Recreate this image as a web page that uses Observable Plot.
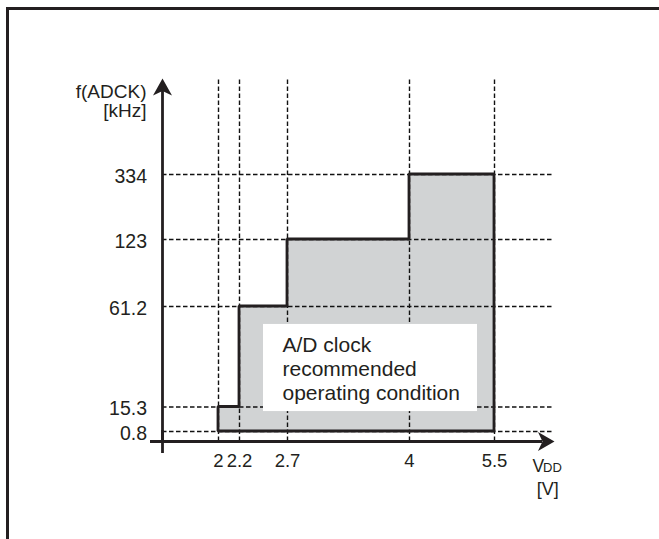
<!DOCTYPE html>
<html>
<head>
<meta charset="utf-8">
<script src="https://cdn.jsdelivr.net/npm/d3@7"></script>
<script src="https://cdn.jsdelivr.net/npm/@observablehq/plot@0.6"></script>
<style>
  body { margin: 0; background: #fff; }
  #wrap { position: relative; width: 659px; height: 539px; overflow: hidden; }
  #chart { position: absolute; left: 0; top: 0; }
  #border { position: absolute; left: 6px; top: 7px; right: -10px; bottom: -10px;
            border-left: 3px solid #231f20; border-top: 3px solid #231f20; }
</style>
</head>
<body>
<div id="wrap"><div id="chart"></div><div id="border"></div></div>
<script>
// ---- data ----
const voltages = [2, 2.2, 2.7, 4, 5.5];            // V_DD breakpoints [V]
const freqLevels = [15.3, 61.2, 123, 334, 334];    // max f(ADCK) from each breakpoint [kHz]
const freqFloor = 0.8;                             // min f(ADCK) [kHz]
const xTicks = [2, 2.2, 2.7, 4, 5.5];
const xTickLabels = ["2", "2.2", "2.7", "4", "5.5"];
const yTicks = [0.8, 15.3, 61.2, 123, 334];
const yTickLabels = ["0.8", "15.3", "61.2", "123", "334"];
const noteLines = ["A/D clock", "recommended", "operating condition"];
const yTitle = ["f(ADCK)", "[kHz]"];

// axis extents (data units) and annotation box (data units)
const xMin = 1.3, xMax = 6.2, xDashEnd = 6.177;
const yMin = 0, yMax = 500;
const noteX1 = 2.45, noteX2 = 5.2, noteY1 = 12.6, noteY2 = 53;

const steps = voltages.map((v, i) => ({v, f: freqLevels[i]}));

const ink = "#231f20";
const font = "'Liberation Sans', Arial, Helvetica, sans-serif";

const arrowUp = {draw(ctx) { ctx.moveTo(0, 0); ctx.lineTo(9.5, 17); ctx.lineTo(0, 12.5); ctx.lineTo(-9.5, 17); ctx.closePath(); }};
const arrowRight = {draw(ctx) { ctx.moveTo(0, 0); ctx.lineTo(-16.5, 9.5); ctx.lineTo(-12, 0); ctx.lineTo(-16.5, -9.5); ctx.closePath(); }};

const dash = {stroke: "#111", strokeWidth: 1.4, strokeDasharray: "4.5,2.5"};

const chart = Plot.plot({
  width: 659,
  height: 539,
  margin: 0,
  style: {fontFamily: font, color: ink, background: "transparent"},
  x: {type: "linear", domain: [xMin, 2, 2.2, 2.7, 4, 5.5, xMax], range: [162, 218, 239, 287, 409, 494, 554], axis: null},
  y: {type: "linear", domain: [yMin, 0.8, 15.3, 61.2, 123, 334, yMax], range: [441, 431, 406.5, 306, 239, 174, 78], axis: null},
  marks: [
    Plot.areaY(steps, {x: "v", y1: freqFloor, y2: "f", curve: "step-after", fill: "#d1d3d4"}),
    Plot.ruleX(xTicks, {x: d => d, y1: yMin, y2: yMax, ...dash}),
    Plot.ruleY(yTicks, {y: d => d, x1: xMin, x2: xDashEnd, ...dash}),
    Plot.areaY(steps, {x: "v", y1: freqFloor, y2: "f", curve: "step-after", fill: "none", stroke: ink, strokeWidth: 2.8, strokeLinejoin: "miter"}),
    Plot.rect([0], {x1: noteX1, x2: noteX2, y1: noteY1, y2: noteY2, fill: "white"}),
    Plot.text([noteLines.join("\n")], {x: noteX1, y: noteY2, text: d => d, dx: 19, dy: 10.5, lineAnchor: "top", textAnchor: "start", fontSize: 21, lineHeight: 1.15, fill: ink}),
    // axes
    Plot.ruleX([xMin], {x: d => d, y1: yMin, y2: yMax, dy: 12, stroke: ink, strokeWidth: 2.8}),
    Plot.ruleY([yMin], {y: d => d, x1: xMin, x2: xMax, dx: -12, stroke: ink, strokeWidth: 2.8}),
    Plot.ruleX([xMin], {x: d => d, y1: yMin, y2: 0.8, dy: -1, stroke: ink, strokeWidth: 2.8}),
    Plot.dot([0], {x: xMin, y: yMax, symbol: arrowUp, fill: ink, stroke: "none"}),
    Plot.dot([0], {x: xMax, y: yMin, symbol: arrowRight, fill: ink, stroke: "none"}),
    // tick labels
    Plot.text(yTicks, {x: xMin, y: d => d, text: (d, i) => yTickLabels[i], textAnchor: "end", dx: -15.5, dy: 2, fontSize: 19.5, fill: ink}),
    Plot.text(xTicks, {x: d => d, y: yMin, text: (d, i) => xTickLabels[i], dy: 20, fontSize: 18.5, fill: ink}),
    // axis titles
    Plot.text([yTitle.join("\n")], {x: xMin, y: yMax, text: d => d, textAnchor: "end", dx: -16, dy: 22.6, lineHeight: 1.05, fontSize: 19, fill: ink}),
    Plot.text(["V"], {x: xMax, y: yMin, text: d => d, textAnchor: "start", dx: -22, dy: 25.3, fontSize: 17.5, fill: ink}),
    Plot.text(["DD"], {x: xMax, y: yMin, text: d => d, textAnchor: "start", dx: -11.5, dy: 26.5, fontSize: 13, fill: ink}),
    Plot.text(["[V]"], {x: xMax, y: yMin, text: d => d, textAnchor: "middle", dx: -6.7, dy: 47.7, fontSize: 18, fill: ink})
  ]
});
document.getElementById("chart").appendChild(chart);
</script>
</body>
</html>
